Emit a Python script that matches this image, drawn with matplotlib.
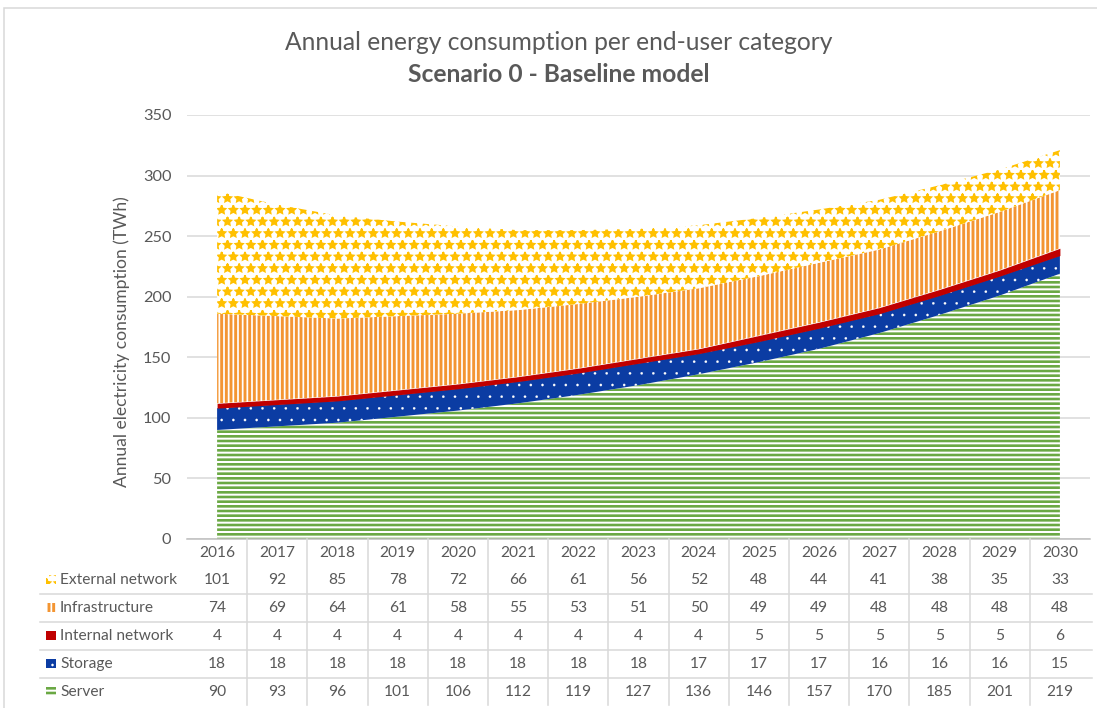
import matplotlib
matplotlib.use("Agg")
import matplotlib.pyplot as plt
import matplotlib.patches as mpatches
import matplotlib.transforms as mtransforms
from matplotlib.lines import Line2D
import numpy as np

# data (TWh)
years = [2016, 2017, 2018, 2019, 2020, 2021, 2022, 2023, 2024, 2025, 2026, 2027, 2028, 2029, 2030]
server = [90, 93, 96, 101, 106, 112, 119, 127, 136, 146, 157, 170, 185, 201, 219]
storage = [18, 18, 18, 18, 18, 18, 18, 18, 17, 17, 17, 16, 16, 16, 15]
internal_network = [4, 4, 4, 4, 4, 4, 4, 4, 4, 5, 5, 5, 5, 5, 6]
infrastructure = [74, 69, 64, 61, 58, 55, 53, 51, 50, 49, 49, 48, 48, 48, 48]
external_network = [101, 92, 85, 78, 72, 66, 61, 56, 52, 48, 44, 41, 38, 35, 33]

W, H, DPI = 1097, 708, 140
TXT = "#595959"
GRID = "#D9D9D9"

plt.rcParams['font.family'] = ['Lato', 'DejaVu Sans']

def fx(px):
    return px / W

def fy(py):
    return 1 - py / H

# name, values, face, hatch colour, hatch, hatch linewidth  (bottom -> top)
layers = [
    ("Server", server, "white", "#6AA843", "-----", 1.35),
    ("Storage", storage, "#0B3CA3", "white", "..", 0.1),
    ("Internal network", internal_network, "#C00000", "#C00000", None, 1.0),
    ("Infrastructure", infrastructure, "white", "#F39532", "|||||", 1.5),
    ("External network", external_network, "white", "#FFC000", "**", 0.9),
]

fig = plt.figure(figsize=(W / DPI, H / DPI), dpi=DPI)
ax = fig.add_axes([fx(187), fy(539), fx(1090) - fx(187), fy(115) - fy(539)])

x = np.arange(len(years))
bottom = np.zeros(len(years))
for name, vals, face, hcol, hatch, hlw in layers:
    top = bottom + np.array(vals)
    with plt.rc_context({'hatch.linewidth': hlw}):
        coll = ax.fill_between(x, bottom, top, facecolor=face, edgecolor=hcol,
                               hatch=hatch, linewidth=0, zorder=2)
    if hasattr(coll, 'set_hatch_linewidth'):
        coll.set_hatch_linewidth(hlw)
    bottom = top

ax.set_xlim(-0.5, len(years) - 0.5)
ax.set_ylim(0, 350)
ax.set_yticks(range(0, 351, 50))
ax.set_xticks([])
ax.yaxis.grid(True, color=GRID, lw=0.8)
ax.set_axisbelow(True)
for s in ["top", "right", "left"]:
    ax.spines[s].set_visible(False)
ax.spines["bottom"].set_color("#BFBFBF")
ax.spines["bottom"].set_linewidth(0.8)
ax.tick_params(axis="y", length=0, pad=8, labelsize=8.4, labelcolor=TXT)

fig.text(fx(559), fy(43), "Annual energy consumption per end-user category",
         ha="center", va="center", fontsize=12.7, color=TXT)
fig.text(fx(559), fy(75), "Scenario 0 - Baseline model",
         ha="center", va="center", fontsize=12.7, fontweight="bold", color=TXT)
fig.text(fx(122), fy(342), "Annual electricity consumption (TWh)", rotation=90,
         ha="center", va="center", fontsize=9, color=TXT)

# data table under the chart
trans = mtransforms.blended_transform_factory(ax.transData, fig.transFigure)
for i, yr in enumerate(years):
    ax.text(i, fy(553), str(yr), transform=trans, ha="center", va="center",
            fontsize=8.0, color=TXT, clip_on=False)

row_y = [580, 608, 636, 664, 692]
for (name, vals, face, hcol, hatch, hlw), ry in zip(layers[::-1], row_y):
    for i, v in enumerate(vals):
        ax.text(i, fy(ry), str(v), transform=trans, ha="center", va="center",
                fontsize=8.0, color=TXT, clip_on=False)
    fig.text(fx(60), fy(ry), name, ha="left", va="center", fontsize=8.0, color=TXT)
    with plt.rc_context({'hatch.linewidth': hlw}):
        key = mpatches.Rectangle((fx(46), fy(ry + 4)), fx(10), fy(0) - fy(9),
                                 facecolor=face, edgecolor=hcol, hatch=hatch,
                                 linewidth=0, transform=fig.transFigure)
    if hasattr(key, 'set_hatch_linewidth'):
        key.set_hatch_linewidth(hlw)
    fig.add_artist(key)

for ly in [594, 622, 650, 678]:
    fig.add_artist(Line2D([fx(40), fx(1092)], [fy(ly), fy(ly)],
                          transform=fig.transFigure, color=GRID, lw=0.8))
for i in range(len(years) - 1):
    fig.add_artist(Line2D([i + 0.5, i + 0.5], [fy(539), fy(705)],
                          transform=trans, color=GRID, lw=0.8))

# chart area border
fig.add_artist(mpatches.Rectangle((fx(4), -0.1), 1.2, fy(8) + 0.1, fill=False,
                                  edgecolor=GRID, lw=0.8, transform=fig.transFigure))

fig.savefig("out.png", dpi=DPI)
